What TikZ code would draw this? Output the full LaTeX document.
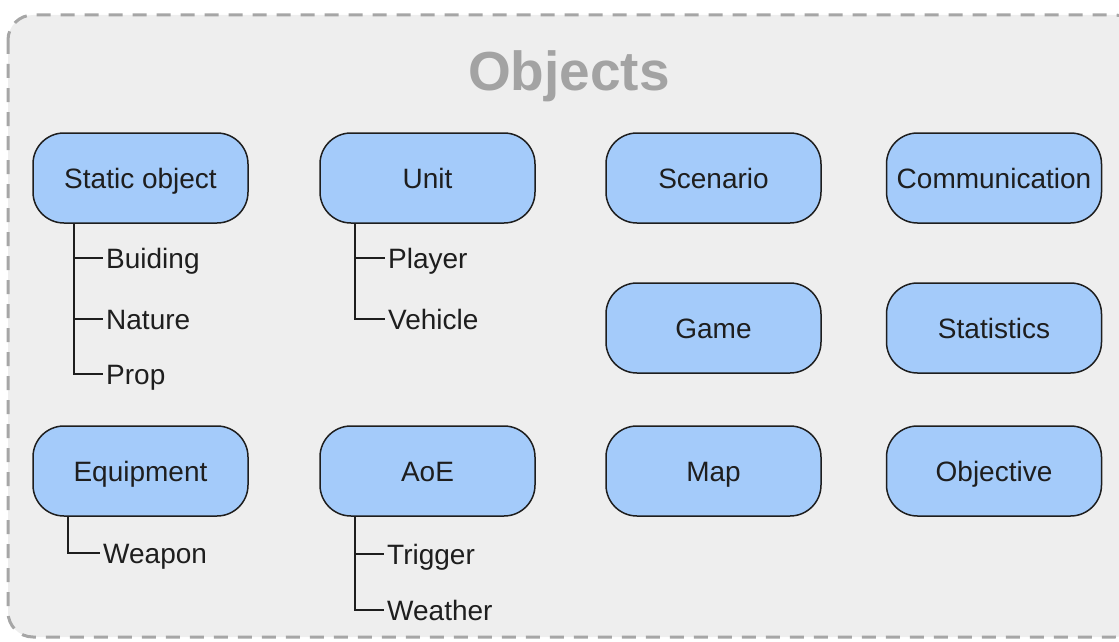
\documentclass[tikz,border=0pt]{standalone}
\usepackage{fontspec}
\setmainfont{Liberation Sans}
\definecolor{panelfill}{RGB}{238,238,238}
\definecolor{panelline}{RGB}{166,166,166}
\definecolor{boxfill}{RGB}{164,203,250}
\definecolor{boxline}{RGB}{30,30,30}
\definecolor{titlegray}{RGB}{163,163,163}
\definecolor{ink}{RGB}{30,30,30}
\tikzset{
  panel/.style={draw=panelline, fill=panelfill, line width=3pt,
    dash pattern=on 14pt off 10pt, rounded corners=25pt},
  objbox/.style={draw=boxline, fill=boxfill, line width=1.5pt,
    rounded corners=31pt, minimum width=215pt, minimum height=90pt,
    inner sep=0pt, text=ink, font=\fontsize{28}{32}\selectfont,
    text height=20pt, text depth=0pt},
  leaf/.style={anchor=west, inner sep=3pt, text=ink,
    font=\fontsize{28}{32}\selectfont, text height=20pt, text depth=0pt},
  branch/.style={draw=ink, line width=1.8pt},
}
\begin{document}
\begin{tikzpicture}[x=1pt, y=-1pt]
  \useasboundingbox (0,0) rectangle (1119,642);
  \clip (0,0) rectangle (1119,642);

  % container
  \draw[panel] (8,15) rectangle (1140,637);
  \node[anchor=base, text=titlegray, inner sep=0pt,
    font=\fontsize{55}{60}\selectfont\bfseries] (title) at (569,91) {Objects};

  % object boxes, four columns by three rows
  \node[objbox] (stat) at (140.5,178) {Static object};
  \node[objbox] (unit) at (427.5,178) {Unit};
  \node[objbox] (scen) at (713.5,178) {Scenario};
  \node[objbox] (comm) at (994,178) {Communication};
  \node[objbox] (game) at (713.5,328) {Game};
  \node[objbox] (stats) at (994,328) {Statistics};
  \node[objbox] (equip) at (140.5,471) {Equipment};
  \node[objbox] (aoe) at (427.5,471) {AoE};
  \node[objbox] (map) at (713.5,471) {Map};
  \node[objbox] (objv) at (994,471) {Objective};

  % sub-types
  \node[leaf] (bui) at (103,258) {Buiding};
  \node[leaf] (nat) at (103,319) {Nature};
  \node[leaf] (prop) at (103,374) {Prop};
  \node[leaf] (play) at (385,258) {Player};
  \node[leaf] (veh) at (385,319) {Vehicle};
  \node[leaf] (weap) at (100,553) {Weapon};
  \node[leaf] (trig) at (384,554) {Trigger};
  \node[leaf] (weat) at (384,610) {Weather};

  % tree branches
  \draw[branch] ([xshift=-66.5pt]stat.south) |- (bui.west);
  \draw[branch] ([xshift=-66.5pt]stat.south) |- (nat.west);
  \draw[branch] ([xshift=-66.5pt]stat.south) |- (prop.west);
  \draw[branch] ([xshift=-72.5pt]unit.south) |- (play.west);
  \draw[branch] ([xshift=-72.5pt]unit.south) |- (veh.west);
  \draw[branch] ([xshift=-72.5pt]equip.south) |- (weap.west);
  \draw[branch] ([xshift=-72.5pt]aoe.south) |- (trig.west);
  \draw[branch] ([xshift=-72.5pt]aoe.south) |- (weat.west);
\end{tikzpicture}
\end{document}
